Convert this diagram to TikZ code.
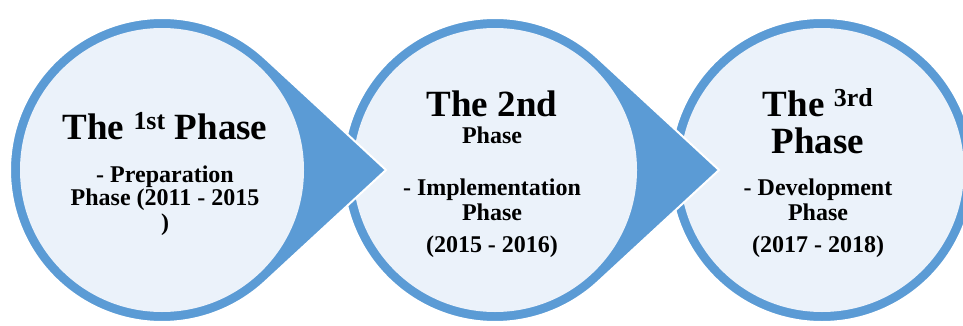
\documentclass[tikz,border=0pt]{standalone}
\usepackage{fontspec}
\setmainfont{Liberation Serif}
\usepackage{tikz}
\usetikzlibrary{positioning}
\definecolor{ringblue}{RGB}{91,155,213}
\definecolor{disclight}{RGB}{235,242,250}
\tikzstyle{ring} = [fill=ringblue, draw=white, line width=2pt]
\tikzstyle{disc} = [circle, minimum size=284pt, inner sep=0pt, fill=disclight]
\tikzstyle{title} = [anchor=base, align=center, font=\fontsize{37}{37}\selectfont\bfseries]
\tikzstyle{body} = [anchor=base, align=center, font=\fontsize{24}{25}\selectfont\bfseries]

\begin{document}
\begin{tikzpicture}[x=1pt, y=1pt]
		\useasboundingbox (0,0) rectangle (963,325);
		
		\coordinate (C1) at (162,155);
		\coordinate (C2) at (495,155);
		\coordinate (C3) at (822,155);
		\coordinate (Tip1) at (386,155);
		\coordinate (Tip2) at (719,155);
		
		% third phase, drawn first so the arrow tips lie on top
		% (base anchor of a multi-line node = last line)
		\fill [ring] (C3) circle (152);
		\node (Phase3) [disc] at (C3) {};
		\node (Title3) [title] at ([xshift=-4pt, yshift=17pt]Phase3.center) {The \textsuperscript{3rd}\\Phase};
		\node (Body3) [body] at ([xshift=-4pt, yshift=-82pt]Phase3.center) {- Development\\Phase\\[7pt](2017 - 2018)};
		
		% second phase
		\fill [ring] (Tip2) -- ([shift={(47.27:152)}]C2) arc[start angle=47.27, end angle=312.73, radius=152] -- cycle;
		\node (Phase2) [disc] at (C2) {};
		\node (Title2) [title] at ([xshift=-3pt, yshift=54pt]Phase2.center) {The 2nd};
		\node (Body2) [body] at ([xshift=-3pt, yshift=-82pt]Phase2.center) {Phase\\ \\[2pt]- Implementation\\Phase\\[7pt](2015 - 2016)};
		
		% first phase
		\fill [ring] (Tip1) -- ([shift={(47.27:152)}]C1) arc[start angle=47.27, end angle=312.73, radius=152] -- cycle;
		\node (Phase1) [disc] at (C1) {};
		\node (Title1) [title] at ([xshift=3pt, yshift=31pt]Phase1.center) {The \textsuperscript{1st} Phase};
		\node (Body1) [body] at ([xshift=3pt, yshift=-60pt]Phase1.center) {- Preparation\\[-2pt]Phase (2011 - 2015\\[0pt])};
	\end{tikzpicture}
\end{document}
